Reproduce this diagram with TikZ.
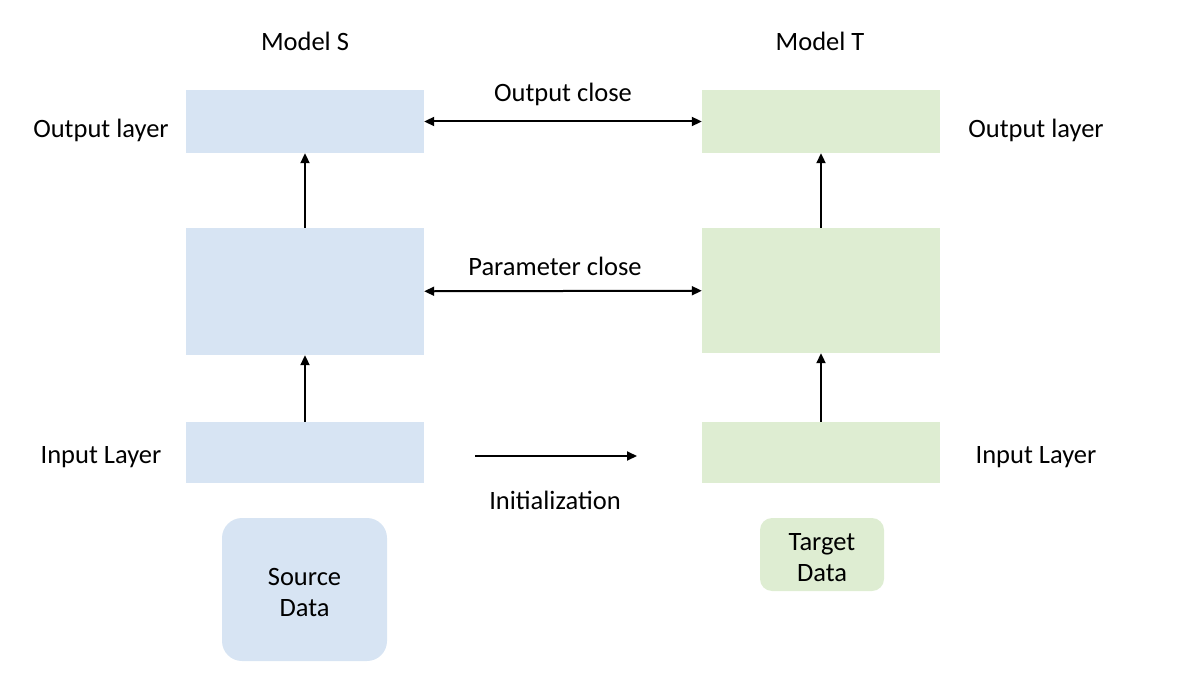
\documentclass[tikz,border=0pt]{standalone}
\usepackage{fontspec}
\setmainfont{Carlito}
\usetikzlibrary{arrows.meta}
\definecolor{sblue}{RGB}{215,228,243}
\definecolor{tgreen}{RGB}{222,237,210}
\tikzset{
  modelfig/.style={x=1pt,y=-1pt,font=\fontsize{26.5}{31}\selectfont},
  layerS/.style={fill=sblue,draw=none,minimum width=238pt,inner sep=0pt},
  layerT/.style={fill=tgreen,draw=none,minimum width=238pt,inner sep=0pt},
  lbl/.style={inner sep=0pt,align=center},
  link/.style={line width=2pt,-{Triangle[length=10pt,width=9pt]}},
  twolink/.style={line width=2pt,{Triangle[length=10pt,width=9pt]}-{Triangle[length=10pt,width=9pt]}}
}

\begin{document}
\begin{tikzpicture}[modelfig]
    \useasboundingbox (0,0) rectangle (1196,700);
    % model S
    \node[layerS,minimum height=63pt]  (outS) at (305,121.5) {};
    \node[layerS,minimum height=127pt] (midS) at (305,291.5) {};
    \node[layerS,minimum height=61pt]  (inS)  at (305,452.5) {};
    \fill[sblue,rounded corners=20pt] (222,518) rectangle (387,661);
    \node[lbl] (srcS) at (304.5,592.5) {Source\\Data};
    % model T
    \node[layerT,minimum height=63pt]  (outT) at (821,121.5) {};
    \node[layerT,minimum height=125pt] (midT) at (821,290.5) {};
    \node[layerT,minimum height=61pt]  (inT)  at (821,452.5) {};
    \fill[tgreen,rounded corners=12pt] (760,518) rectangle (884,591);
    \node[lbl] (tgtT) at (822,557.5) {Target\\Data};
    % labels
    \node[lbl] (nameS)  at (305,41.5)  {Model S};
    \node[lbl] (nameT)  at (820,41.5)  {Model T};
    \node[lbl] (olS)    at (101,130.5) {Output layer};
    \node[lbl] (olT)    at (1036,130.5) {Output layer};
    \node[lbl] (ilS)    at (101,457.5) {Input Layer};
    \node[lbl] (ilT)    at (1036,457.5) {Input Layer};
    \node[lbl] (oclose) at (563,94.5)  {Output close};
    \node[lbl] (pclose) at (555,266.5) {Parameter close};
    \node[lbl] (init)   at (555,500.5) {Initialization};
    % arrows
    \draw[link] (midS) -- (outS);
    \draw[link] (inS) -- (midS);
    \draw[link] (midT) -- (outT);
    \draw[link] (inT) -- (midT);
    \draw[twolink] (outS) -- (outT);
    \draw[twolink] (midS) -- (midT);
    \coordinate (initA) at (475,456);
    \coordinate (initB) at (637,456);
    \draw[link] (initA) -- (initB);
\end{tikzpicture}
\end{document}
